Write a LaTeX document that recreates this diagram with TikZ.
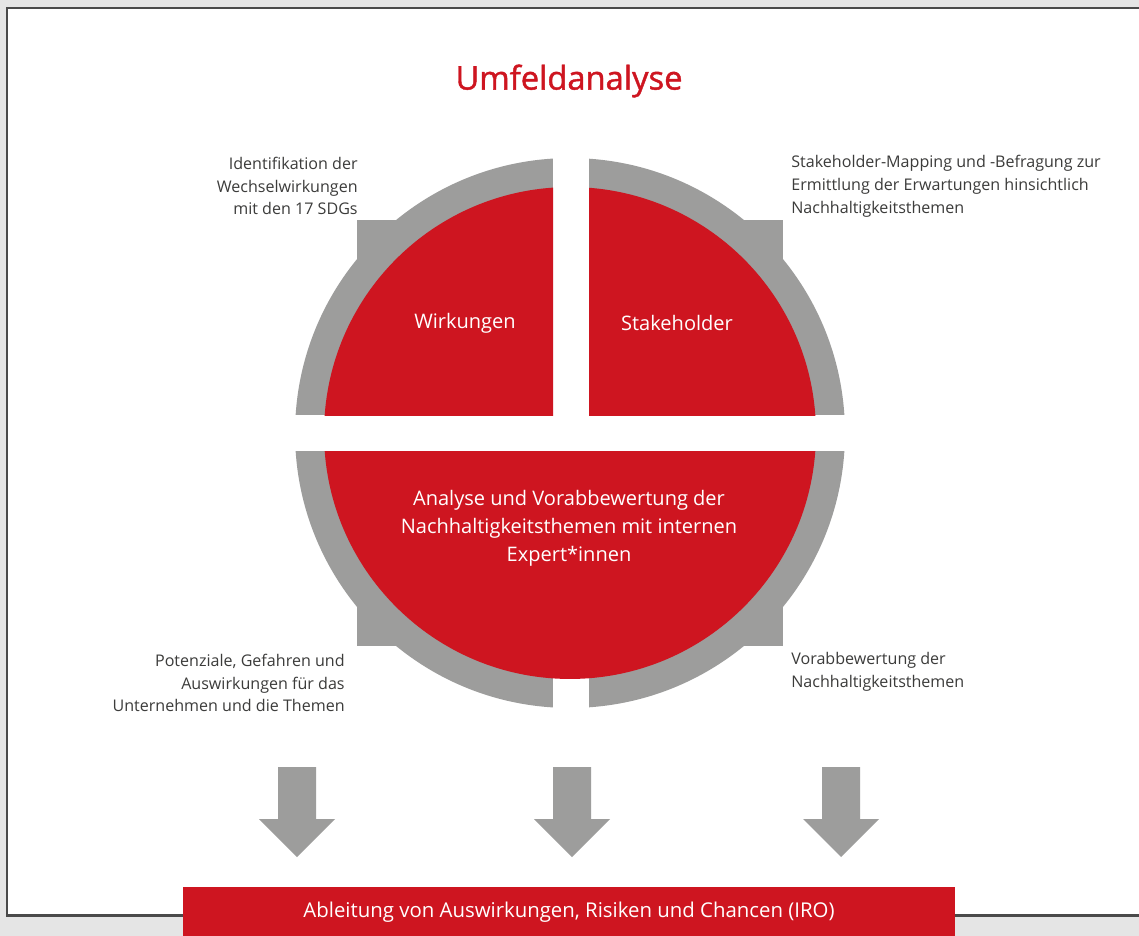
\documentclass[tikz,border=0pt]{standalone}
\usepackage{fontspec}
\setmainfont{Open Sans}
\newfontfamily\titlefont[FakeBold=1.3]{Open Sans}
\usetikzlibrary{positioning}
\definecolor{umred}{RGB}{206,21,32}
\definecolor{ringgrey}{RGB}{157,157,156}
\definecolor{labelgrey}{RGB}{60,60,59}
\definecolor{framegrey}{RGB}{74,74,74}
\definecolor{pagegrey}{RGB}{229,229,229}

\begin{document}
\begin{tikzpicture}[x=0.02cm,y=-0.02cm,
  sidelabel/.style={text=labelgrey,font=\fontsize{9.15}{13}\selectfont,inner sep=0pt},
  fieldlabel/.style={text=white,font=\fontsize{11.4}{15.9}\selectfont,align=center,inner sep=0pt}]
  % page and frame
  \useasboundingbox (0,0) rectangle (1139,936);
  \clip (0,0) rectangle (1139,936);
  \fill[pagegrey] (0,0) rectangle (1139,936);
  \draw[framegrey,line width=1.7pt,fill=white] (7,8) rectangle (1160,915);
  % title
  \node[text=umred,font=\titlefont\fontsize{18.6}{22}\selectfont] (title) at (569,81) {Umfeldanalyse};
  % grey ring with corner notches
  \fill[ringgrey] (570,433) circle (5.5cm);
  \fill[ringgrey] (357,220) rectangle (783,646);
  % white gaps
  \fill[white] (553,140) rectangle (589,720);
  \fill[white] (280,415) rectangle (860,451);
  % three red fields
  \begin{scope}
    \clip (280,140) rectangle (553,415);
    \fill[umred] (570,433) circle (4.92cm);
  \end{scope}
  \begin{scope}
    \clip (589,140) rectangle (860,415);
    \fill[umred] (570,433) circle (4.92cm);
  \end{scope}
  \begin{scope}
    \clip (280,451) rectangle (860,720);
    \fill[umred] (570,433) circle (4.92cm);
  \end{scope}
  \node[fieldlabel] (wirk) at (465,323) {Wirkungen};
  \node[fieldlabel] (stake) at (677,323) {Stakeholder};
  \node[fieldlabel] (analyse) at (569,528) {Analyse und Vorabbewertung der\\Nachhaltigkeitsthemen mit internen\\Expert*innen};
  % side labels
  \node[sidelabel,align=right,anchor=east] (sdg) at (358,186) {Identifikation der\\Wechselwirkungen\\mit den 17 SDGs};
  \node[sidelabel,align=left,anchor=west] (mapping) at (791,186) {Stakeholder-Mapping und -Befragung zur\\Ermittlung der Erwartungen hinsichtlich\\Nachhaltigkeitsthemen};
  \node[sidelabel,align=right,anchor=east] (potenz) at (345,683) {Potenziale, Gefahren und\\Auswirkungen für das\\Unternehmen und die Themen};
  \node[sidelabel,align=left,anchor=west] (vorab) at (791,672) {Vorabbewertung der\\Nachhaltigkeitsthemen};
  % three arrows
  \foreach \ax in {297,572,841} {
    \fill[ringgrey] ({\ax-19},767) -- ({\ax+19},767) -- ({\ax+19},819) -- ({\ax+38},819)
      -- (\ax,857) -- ({\ax-38},819) -- ({\ax-19},819) -- cycle;
  }
  % result bar
  \node[fill=umred,text=white,minimum width=15.44cm,minimum height=1cm,
    font=\fontsize{11.6}{14}\selectfont] (iro) at (569,912) {Ableitung von Auswirkungen, Risiken und Chancen (IRO)};
\end{tikzpicture}
\end{document}
